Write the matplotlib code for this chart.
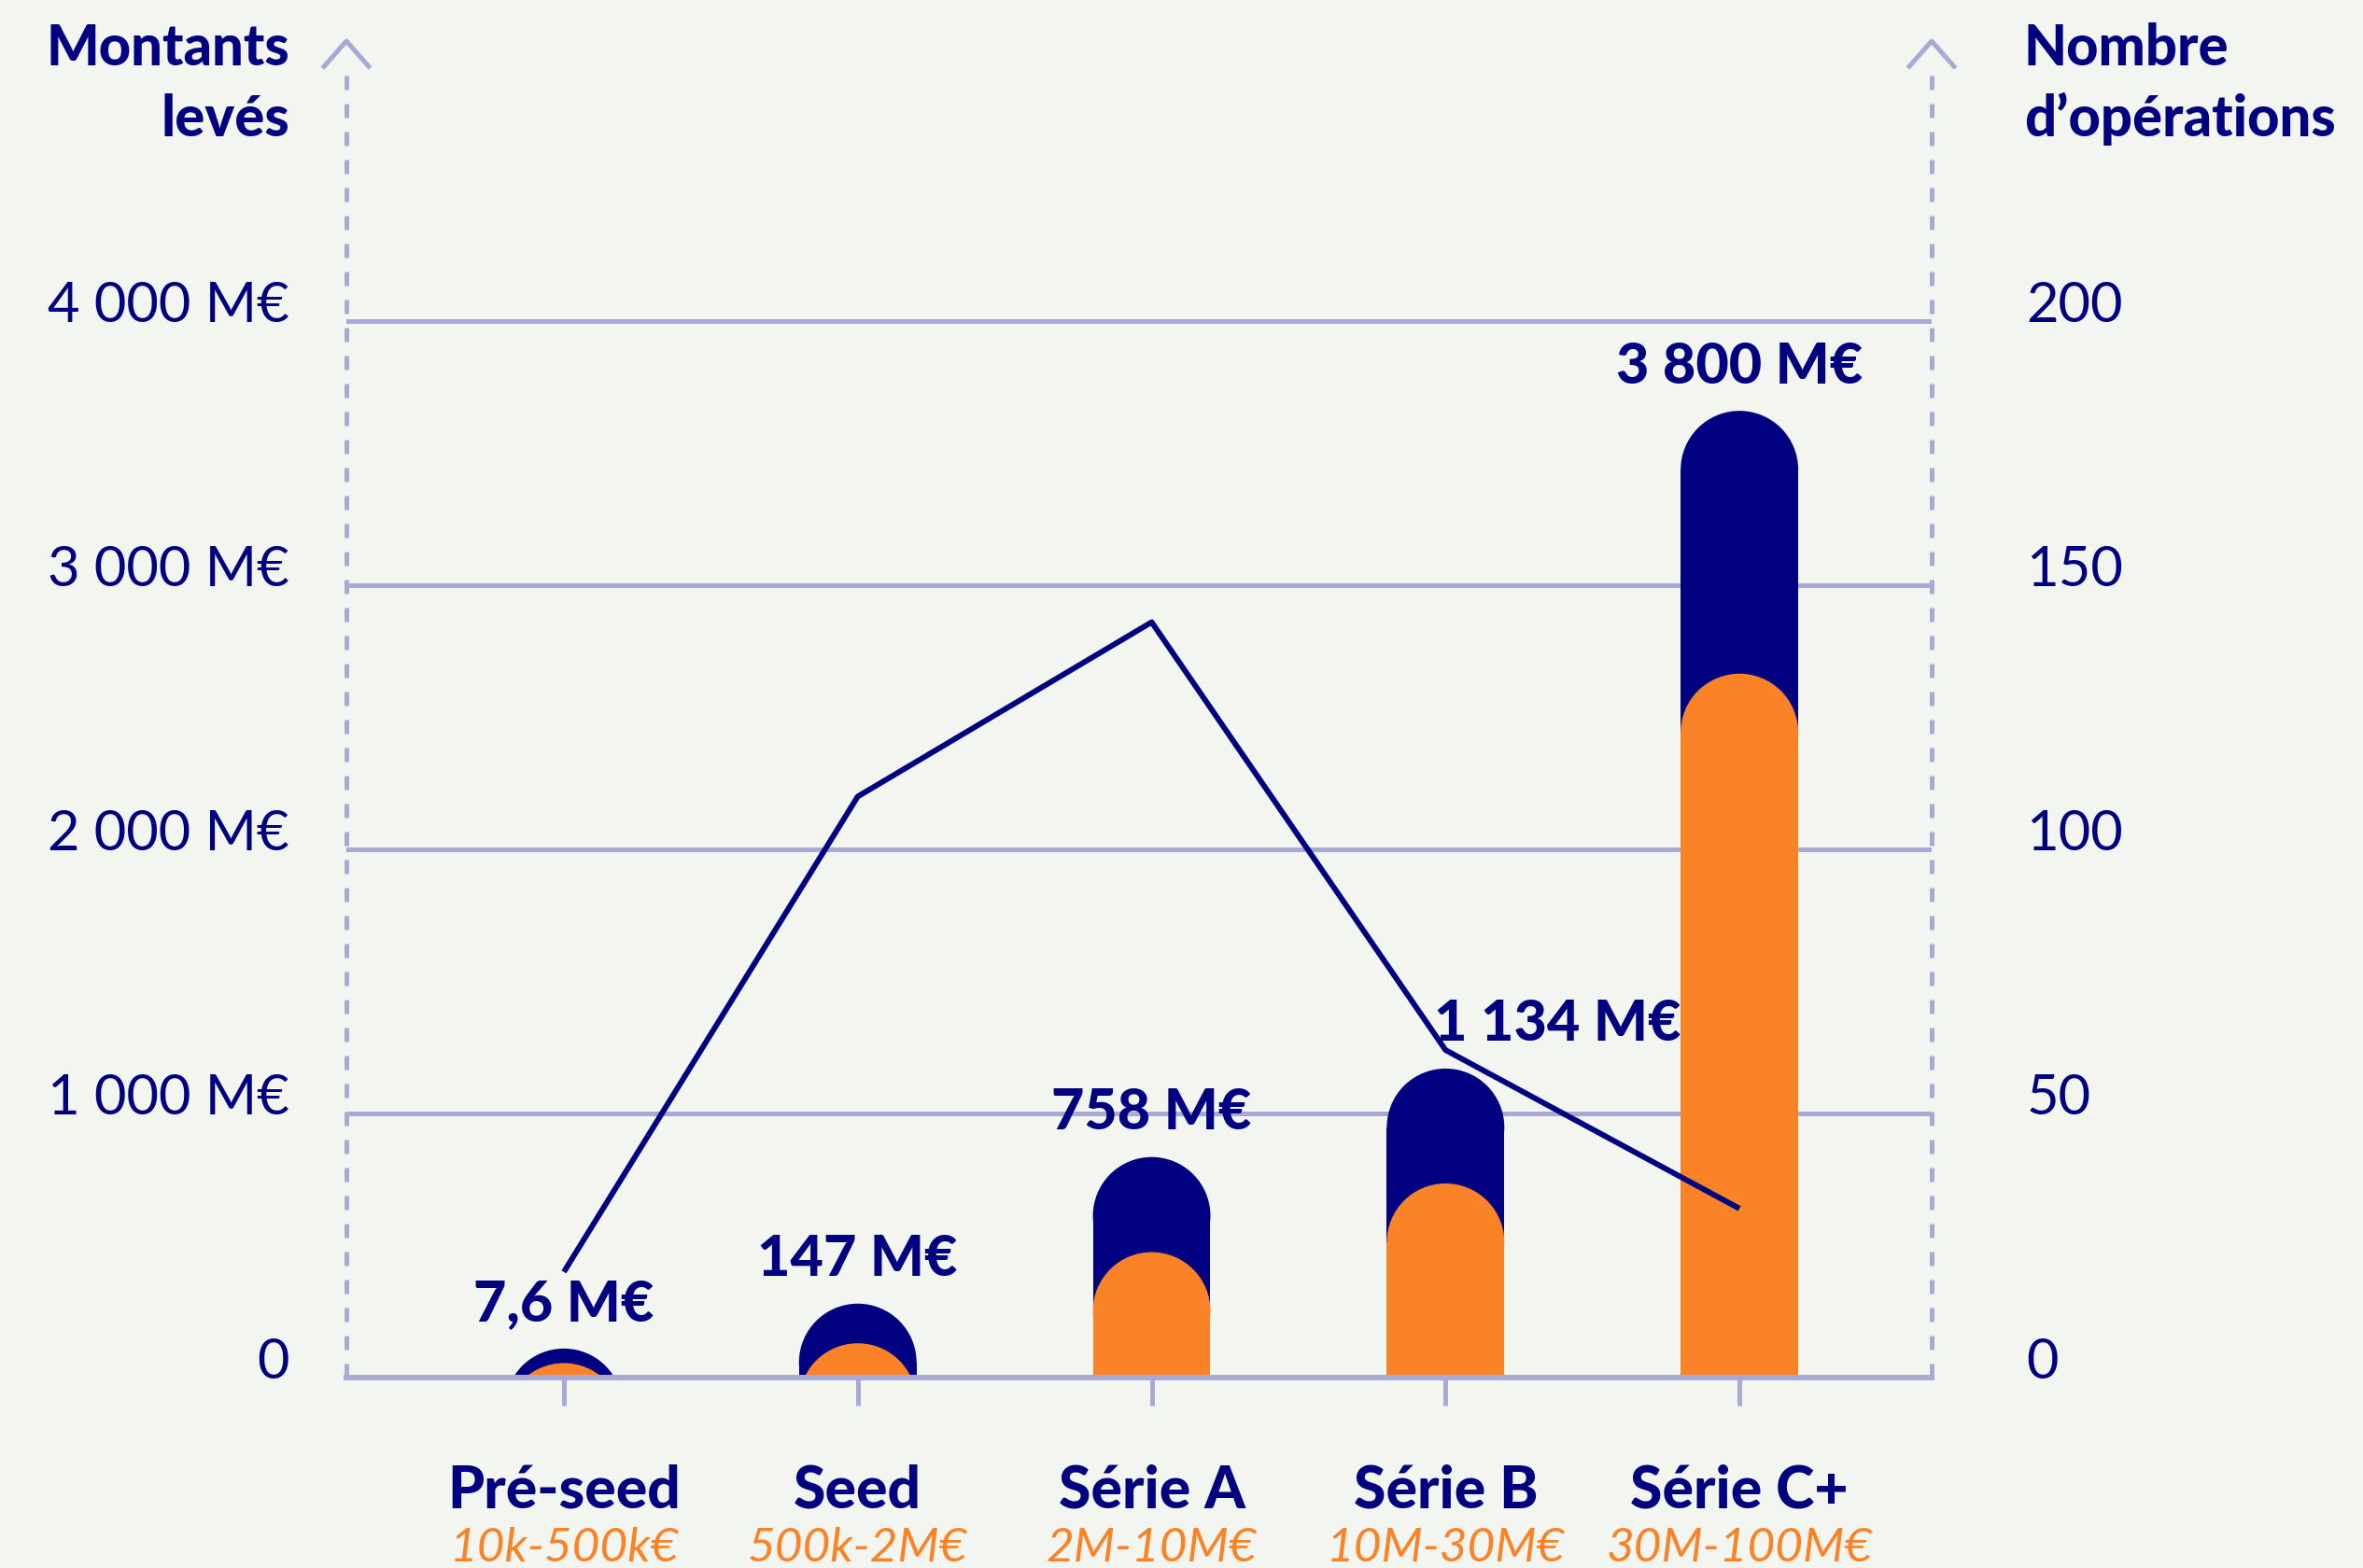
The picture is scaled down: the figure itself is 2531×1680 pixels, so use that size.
import numpy as np
import matplotlib.pyplot as plt
from matplotlib.patches import Rectangle, Ellipse

plt.rcParams['font.family'] = ['Lato', 'DejaVu Sans']

# données
categories = ['Pré-seed', 'Seed', 'Série A', 'Série B', 'Série C+']
tranches = ['10k-500k€', '500k-2M€', '2M-10M€', '10M-30M€', '30M-100M€']
montants_total = [110, 280, 835, 1170, 3660]      # barre bleue (M€)
montants_orange = [55, 130, 475, 735, 2665]       # barre orange (M€)
etiquettes = ['7,6 M€', '147 M€', '758 M€', '1 134 M€', '3 800 M€']
nb_operations = [20, 110, 143, 62, 32]
ticks_gauche = [0, 1000, 2000, 3000, 4000]
labels_gauche = ['0', '1 000 M€', '2 000 M€', '3 000 M€', '4 000 M€']
ticks_droite = [0, 50, 100, 150, 200]

NAVY = '#000080'
ORANGE = '#F98326'
LAVANDE = '#A8AAD5'
FOND = '#F3F5F1'

W, H = 2531, 1681
fig = plt.figure(figsize=(W / 100, H / 100), dpi=100, facecolor=FOND)
x0, x1, y0, y1 = 371, 2069, 1477, 45
ax = fig.add_axes([x0 / W, 1 - y0 / H, (x1 - x0) / W, (y0 - y1) / H])
ax.set_facecolor('none')
ax.set_xlim(-0.74, 4.654)
ax.set_ylim(0, 5060)
ax2 = ax.twinx()
ax2.set_ylim(0, 253)

x = np.arange(len(categories))
largeur = 0.4

# rayon de l'arrondi en unités y pour avoir un demi-cercle
bb = ax.get_window_extent()
px_x = bb.width / (ax.get_xlim()[1] - ax.get_xlim()[0])
px_y = bb.height / (ax.get_ylim()[1] - ax.get_ylim()[0])
r_y = (largeur / 2) * px_x / px_y


def barre_arrondie(axe, xc, h, couleur, z):
    base = h - r_y
    if base > 0:
        axe.add_patch(Rectangle((xc - largeur / 2, 0), largeur, base, color=couleur, lw=0, zorder=z))
    axe.add_patch(Ellipse((xc, base), largeur, 2 * r_y, color=couleur, lw=0, zorder=z))


for t in ticks_gauche[1:]:
    ax.axhline(t, color=LAVANDE, lw=3.6, zorder=1)

for i in range(len(categories)):
    barre_arrondie(ax, x[i], montants_total[i], NAVY, 2)
    barre_arrondie(ax, x[i], montants_orange[i], ORANGE, 3)

ax.axhline(0, color=LAVANDE, lw=4.3, zorder=4, clip_on=False)

# axes verticaux en pointillés avec flèche
for xf in [0, 1]:
    ax.plot([xf, xf], [0, 0.9825], transform=ax.transAxes, ls=(0, (3, 3)), lw=3.6,
            color=LAVANDE, clip_on=False, zorder=4)
    ax.plot([xf - 0.0141, xf, xf + 0.0141], [0.981, 1.0, 0.981], transform=ax.transAxes,
            lw=3.6, color=LAVANDE, clip_on=False, zorder=4)

for s in ax.spines.values():
    s.set_visible(False)
for s in ax2.spines.values():
    s.set_visible(False)

ax.set_xticks(x)
ax.set_xticklabels([])
ax.tick_params(axis='x', length=21.6, width=3.6, color=LAVANDE)

ax.set_yticks(ticks_gauche, labels_gauche)
ax.tick_params(axis='y', length=0, pad=44, labelsize=43, labelcolor=NAVY)
for lab in ax.get_yticklabels():
    lab.set_va('baseline')

ax2.set_yticks(ticks_droite, [str(t) for t in ticks_droite])
ax2.tick_params(axis='y', length=0, pad=73, labelsize=43, labelcolor=NAVY)
for lab in ax2.get_yticklabels():
    lab.set_va('baseline')

ax2.plot(x, nb_operations, color=NAVY, lw=4.3, zorder=5, solid_capstyle='butt')

for i in range(len(categories)):
    dx = 86 if i == 3 else 0
    ax.annotate(etiquettes[i], (x[i], montants_total[i]), xytext=(dx, 22), textcoords='offset points',
                ha='center', va='baseline', fontsize=44, fontweight='black', color=NAVY,
                annotation_clip=False)
    ax.annotate(categories[i], (x[i], 0), xytext=(0, -100), textcoords='offset points',
                ha='center', va='baseline', fontsize=45, fontweight='black', color=NAVY,
                annotation_clip=False)
    ax.annotate(tranches[i], (x[i], 0), xytext=(0, -141), textcoords='offset points',
                ha='center', va='baseline', fontsize=37, fontstyle='italic', color=ORANGE,
                annotation_clip=False)

fig.text(310 / W, 1 - 70 / H, 'Montants', ha='right', va='baseline', fontsize=43,
         fontweight='black', color=NAVY)
fig.text(310 / W, 1 - 146 / H, 'levés', ha='right', va='baseline', fontsize=43,
         fontweight='black', color=NAVY)
fig.text(2168 / W, 1 - 70 / H, 'Nombre', ha='left', va='baseline', fontsize=43,
         fontweight='black', color=NAVY)
fig.text(2168 / W, 1 - 146 / H, 'd’opérations', ha='left', va='baseline', fontsize=43,
         fontweight='black', color=NAVY)

fig.savefig('out.png', dpi=100, facecolor=FOND)
